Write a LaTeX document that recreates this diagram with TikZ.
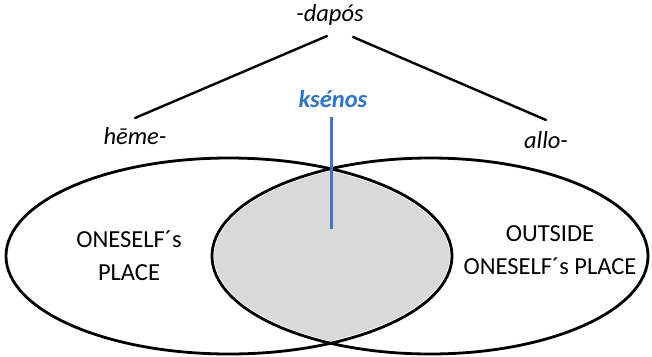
\documentclass[tikz,border=0pt]{standalone}
\usepackage{fontspec}
\setmainfont{Carlito}
\definecolor{lensgray}{HTML}{D9D9D9}
\definecolor{ksblue}{HTML}{2E75C6}
\definecolor{barblue}{HTML}{4472C4}
\begin{document}
\begin{tikzpicture}[x=1pt,y=-1pt,
  lbl/.style={inner sep=0pt, font=\fontsize{24.5}{26}\selectfont\itshape},
  caps/.style={inner sep=0pt, align=center, font=\fontsize{24.5}{33}\selectfont},
  branch/.style={line width=2.4pt, line cap=round},
  rim/.style={line width=2.8pt}]
\useasboundingbox (0,0) rectangle (652,356);
\fill[white] (0,0) rectangle (652,356);

% shaded overlap of the two places
\begin{scope}
  \clip (229,256) ellipse [x radius=223, y radius=98];
  \fill[lensgray] (430,256) ellipse [x radius=218, y radius=98];
\end{scope}
% thin white margin inside the outlines, then the outlines
\draw[white, line width=4.4pt] (229,256) ellipse [x radius=223, y radius=98];
\draw[white, line width=4.4pt] (430,256) ellipse [x radius=218, y radius=98];
\draw[rim] (229,256) ellipse [x radius=223, y radius=98];
\draw[rim] (430,256) ellipse [x radius=218, y radius=98];

% labels
\node[lbl] (dapos) at (330,15) {-dapós};
\node[lbl] (heme) at (135,136) {hēme-};
\node[lbl] (allo) at (546,140) {allo-};
\node[lbl, font=\fontsize{24.5}{26}\selectfont\bfseries\itshape, text=ksblue] (ksenos) at (333,99) {ksénos};
\node[caps] (self) at (129,256) {ONESELF´s\\PLACE};
\node[caps] (outside) at (550,250) {OUTSIDE\\ONESELF´s PLACE};

% tree branches
\coordinate (dL) at (327,36);
\coordinate (dR) at (353,37);
\coordinate (hT) at (135,118);
\coordinate (aT) at (546,120);
\draw[branch] (dL) -- (hT);
\draw[branch] (dR) -- (aT);

% marker of the overlap
\coordinate (kTop) at (331,117);
\coordinate (kBot) at (331,229);
\draw[barblue, line width=3pt] (kTop) -- (kBot);
\end{tikzpicture}
\end{document}
